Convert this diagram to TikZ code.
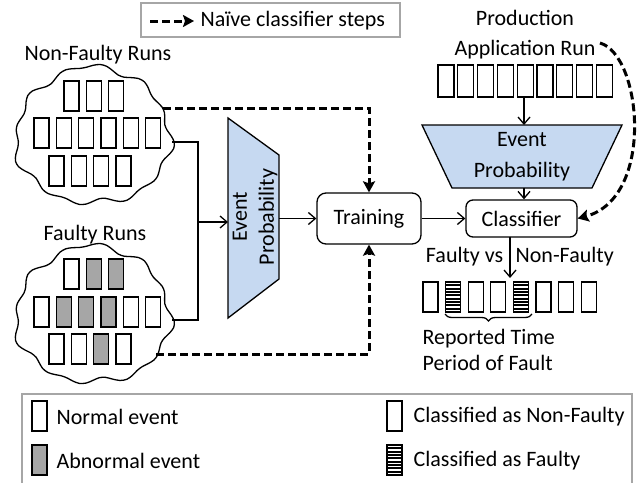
\documentclass[tikz,border=0pt]{standalone}
\usepackage{fontspec}
\setmainfont{Carlito}
\usetikzlibrary{arrows.meta,decorations.pathreplacing,calc}
\definecolor{evgray}{HTML}{A6A6A6}
\definecolor{epblue}{HTML}{C6D9F1}
\definecolor{lgbord}{HTML}{A6A6A6}
\newcommand\evbox[3]{\draw[line width=1.2pt, fill=#3] (#1,#2) rectangle ++(15,30);}
\newcommand\stripebox[2]{\draw[line width=1.2pt] (#1,#2) rectangle ++(15,30);
  \foreach \k in {1,...,8} {\draw[line width=2pt] (#1,{#2+\k*3.33}) -- ++(15,0);}}
\newcommand\wavycloud[4]{\draw[line width=1.3pt] plot[smooth cycle, variable=\t, samples at={0,5,...,355}]
  ({#1+#3*(1+0.035*sin(12*\t)+0.025*sin(7*\t+40)+0.02*sin(3*\t))*cos(\t)},
   {#2+#4*(1+0.035*sin(12*\t)+0.025*sin(7*\t+40)+0.02*sin(3*\t))*sin(\t)});}
\begin{document}
\begin{tikzpicture}[x=1pt,y=-1pt,
  font=\fontsize{22}{26}\selectfont,
  line width=1.3pt,
  thinarrow/.style={line width=1.3pt, -{Straight Barb[length=7pt,width=12pt,line width=1.3pt]}},
  naive/.style={line width=3pt, dash pattern=on 8pt off 4pt, -{Stealth[length=11pt,width=12pt,inset=2pt]}},
  stepbox/.style={draw, rounded corners=9pt, inner sep=0pt, line width=1.3pt},
  txt/.style={inner sep=0pt}]
\useasboundingbox (0,0) rectangle (637,482);

% top legend
\draw[lgbord, line width=1.5pt] (141,3) rectangle (400,37);
\coordinate (lgA) at (150,21);
\coordinate (lgB) at (194,21);
\draw[naive] (lgA) -- (lgB);
\node[txt, anchor=west] (lgT) at (200,21) {Naïve classifier steps};

% Non-faulty runs
\node[txt] (nfl) at (98,55) {Non-Faulty Runs};
\wavycloud{93}{136}{77}{68}
\foreach \i in {0,1,2} {\evbox{64+22.3*\i}{81}{white}}
\foreach \i in {0,...,5} {\evbox{34+22.3*\i}{118}{white}}
\foreach \i in {0,...,3} {\evbox{49+22.3*\i}{156}{white}}

% Faulty runs
\node[txt] (fl) at (95,235) {Faulty Runs};
\wavycloud{93}{315}{77}{68}
\foreach \i/\c in {0/white,1/evgray,2/evgray} {\evbox{64+22.3*\i}{259}{\c}}
\foreach \i/\c in {0/white,1/evgray,2/evgray,3/evgray,4/white,5/white} {\evbox{34+22.3*\i}{297}{\c}}
\foreach \i/\c in {0/white,1/white,2/evgray,3/white} {\evbox{49+22.3*\i}{334}{\c}}

% event probability (vertical)
\draw[fill=epblue, line width=1.3pt] (228,118) -- (279,155) -- (279,279) -- (228,318) -- cycle;
\node[txt, rotate=90, align=center, font=\fontsize{22}{27}\selectfont] (ep1) at (255,217) {Event\\Probability};

% connectors from runs
\coordinate (nfout) at (172,142);
\coordinate (fout) at (172,320);
\coordinate (join) at (198,222);
\coordinate (ep1in) at (228,222);
\coordinate (ep1out) at (279,218.5);
\draw (nfout) -- (198,142) -- (198,320) -- (fout);
\draw[thinarrow] (join) -- (ep1in);

% training & classifier
\node[stepbox, minimum width=104pt, minimum height=51pt] (train) at (369,218.5) {Training};
\node[stepbox, minimum width=111pt, minimum height=37pt, rounded corners=7pt] (clf) at (521.5,218.5) {Classifier};
\draw[thinarrow] (ep1out) -- (train.west);
\draw[thinarrow] (train.east) -- (clf.west);

% naive dashed
\coordinate (nfdash) at (163,108);
\coordinate (fdash) at (156,354);
\draw[naive] (nfdash) -| (train.north);
\draw[naive] (fdash) -| (train.south);

% production
\node[txt, align=center, font=\fontsize{22}{30}\selectfont] (prod) at (525,35) {Production\\Application Run};
\foreach \i in {0,...,8} {\draw[line width=1.2pt] (438+19.8*\i,65) rectangle ++(16,32);}
\coordinate (prbot) at (524,97);
\draw[fill=epblue, line width=1.3pt] (422,125) -- (622,125) -- (592,188) -- (452,188) -- cycle;
\coordinate (ep2top) at (524,125);
\coordinate (ep2bot) at (524,188);
\node[txt, align=center, font=\fontsize{22}{31}\selectfont] (ep2) at (522,157) {Event\\Probability};
\draw[thinarrow] (prbot) -- (ep2top);
\draw[thinarrow] (ep2bot) -- (ep2bot |- clf.north);
\coordinate (prdash) at (600,43);
\draw[naive] (prdash) .. controls (642,55) and (655,198) .. (clf.east);

% output
\coordinate (clfout) at (510,236.5);
\coordinate (outtop) at (510,278);
\draw[thinarrow] (clfout) -- (outtop);
\node[txt, anchor=east] (fvs) at (504,257) {Faulty vs};
\node[txt, anchor=west] (nfv) at (515,257) {Non-Faulty};
\foreach \i in {0,2,3,5,6,7} {\evbox{423+22.6*\i}{282}{white}}
\stripebox{445.6}{282}
\stripebox{513.4}{282}
\coordinate (brA) at (445,314);
\coordinate (brB) at (532,314);
\draw[line width=1.3pt, decorate, decoration={brace, mirror, amplitude=7pt}] (brA) -- (brB);
\node[txt, anchor=west, align=left, font=\fontsize{22}{26}\selectfont] (rep) at (422,350) {Reported Time\\Period of Fault};

% bottom legend
\draw[lgbord, line width=1.5pt] (22,484) -- (22,394) -- (632,394) -- (632,484);
\evbox{32}{401}{white}
\node[txt, anchor=west] (l1) at (56,417) {Normal event};
\evbox{32}{445}{evgray}
\node[txt, anchor=west] (l2) at (56,461) {Abnormal event};
\evbox{387}{401}{white}
\node[txt, anchor=west] (l3) at (413,417) {Classified as Non-Faulty};
\stripebox{387}{445}
\node[txt, anchor=west] (l4) at (413,461) {Classified as Faulty};
\end{tikzpicture}
\end{document}
